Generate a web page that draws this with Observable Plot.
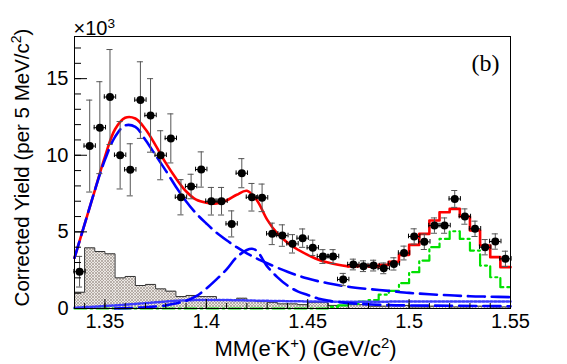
<!DOCTYPE html>
<html><head><meta charset="utf-8">
<script src="https://cdn.jsdelivr.net/npm/d3@7"></script>
<script src="https://cdn.jsdelivr.net/npm/@observablehq/plot@0.6"></script>
<style>
html,body{margin:0;padding:0;background:#fff;}
#chart svg{display:block;}
</style></head><body><div id="chart"></div>
<script>
// ---- data ----
const binEdges = [1.335,1.340,1.345,1.350,1.355,1.360,1.365,1.370,1.375,1.380,1.385,1.390,1.395,1.400,1.405,1.410,1.415,1.420,1.425,1.430,1.435,1.440,1.445,1.450,1.455,1.460,1.465,1.470,1.475,1.480,1.485,1.490,1.495,1.500,1.505,1.510,1.515,1.520,1.525,1.530,1.535,1.540,1.545,1.550];
const dataX = [1.3375,1.3425,1.3475,1.3525,1.3575,1.3625,1.3675,1.3725,1.3775,1.3825,1.3875,1.3925,1.3975,1.4025,1.4075,1.4125,1.4175,1.4225,1.4275,1.4325,1.4375,1.4425,1.4475,1.4525,1.4575,1.4625,1.4675,1.4725,1.4775,1.4825,1.4875,1.4925,1.4975,1.5025,1.5075,1.5125,1.5175,1.5225,1.5275,1.5325,1.5375,1.5425,1.5475];
const dataY = [2.4,10.6,11.8,13.8,10.0,9.05,13.6,12.6,10.0,11.1,7.26,7.96,9.07,7.0,7.0,5.52,8.83,7.26,7.22,4.87,4.76,4.22,4.59,3.96,3.39,3.39,1.89,2.87,2.76,2.80,2.62,2.91,3.62,4.70,4.35,5.41,5.41,7.15,6.0,5.2,4.0,4.37,3.24];
const dataErr = [1.0,3.0,3.0,3.1,2.2,1.7,2.5,2.4,1.6,1.6,1.15,0.8,1.15,0.9,0.9,0.85,0.95,0.9,0.9,0.7,0.7,0.6,0.6,0.5,0.45,0.45,0.4,0.35,0.35,0.35,0.35,0.4,0.45,0.5,0.5,0.5,0.5,0.55,0.5,0.5,0.5,0.5,0.5];

const hatchedBins = [1.06,3.96,3.72,3.57,2.0,2.09,1.5,1.57,1.28,1.13,0.78,0.85,0.78,0.78,0.57,0.52,0.67,0.52,0.45,0.4,0.3,0.3,0.25,0.4,0.4,0.2,0.2,0.25,0.25,0.15,0.15,0.2,0.2,0.1,0.1,0.15,0.15,0.1,0.1,0.15,0.15,0.1,0.1];
const greenBins = [0,0,0,0,0,0,0,0,0,0,0,0,0,0,0,0,0,0,0,0,0,0,0,0,0,0.1,0.2,0.3,0.45,0.55,0.9,1.15,1.65,2.37,3.13,4.0,4.54,5.04,4.54,3.78,2.8,2.04,1.39];
const redStepFirstBin = 27;
const redStepBins = [2.74,2.80,2.72,2.85,3.05,3.5,4.15,4.87,5.74,6.28,6.50,6.0,5.09,4.11,3.35,2.7];

const redX = [1.335,1.34,1.345,1.35,1.355,1.36,1.365,1.37,1.375,1.38,1.385,1.39,1.395,1.40,1.405,1.41,1.415,1.42,1.425,1.43,1.435,1.44,1.445,1.45,1.455,1.46,1.465,1.47];
const redY = [3.3,5.5,7.7,9.9,11.7,12.45,12.4,11.7,10.65,9.5,8.5,7.65,7.1,6.9,6.85,7.05,7.42,7.68,7.05,5.8,4.9,4.3,3.85,3.5,3.2,3.0,2.85,2.75];

const broadX = [1.335,1.34,1.345,1.35,1.355,1.36,1.365,1.37,1.375,1.38,1.385,1.39,1.395,1.40,1.405,1.41,1.415,1.42,1.425,1.43,1.44,1.45,1.46,1.47,1.48,1.49,1.50,1.51,1.52,1.53,1.54,1.55];
const broadY = [3.3,5.5,7.7,9.7,11.2,11.95,11.85,11.0,10.0,9.0,7.95,7.0,6.2,5.55,4.95,4.45,4.0,3.6,3.25,2.95,2.4,1.95,1.65,1.42,1.27,1.15,1.02,0.93,0.86,0.8,0.77,0.74];

const peakX = [1.355,1.36,1.37,1.38,1.385,1.39,1.395,1.40,1.405,1.41,1.415,1.42,1.4225,1.425,1.43,1.435,1.44,1.445,1.45,1.455,1.46,1.47,1.48,1.49,1.50,1.52,1.55];
const peakY = [0.0,0.02,0.08,0.2,0.33,0.5,0.8,1.3,1.9,2.55,3.35,3.82,3.9,3.75,2.75,2.05,1.5,1.12,0.88,0.66,0.52,0.35,0.27,0.22,0.2,0.18,0.15];

const dottedX = [1.335,1.345,1.355,1.365,1.375,1.385,1.395,1.41,1.43,1.46,1.50,1.55];
const dottedY = [0.05,0.12,0.2,0.3,0.4,0.5,0.55,0.55,0.5,0.45,0.45,0.45];

const xMajor = [1.35,1.40,1.45,1.50,1.55];
const xTickLabels = ["1.35","1.4","1.45","1.5","1.55"];
const xMinor = [1.34,1.35,1.36,1.37,1.38,1.39,1.40,1.41,1.42,1.43,1.44,1.45,1.46,1.47,1.48,1.49,1.50,1.51,1.52,1.53,1.54,1.55];
const yMajor = [0,5,10,15];
const yTickLabels = ["0","5","10","15"];
const yMinor = [1,2,3,4,5,6,7,8,9,10,11,12,13,14,15,16,17];

const xTitle = "MM(e\u207BK\u207A) (GeV/c\u00B2)";
const yTitle = "Corrected Yield (per 5 MeV/c\u00B2)";
const scaleText = "\u00D710\u00B3";
const panelText = "(b)";

// ---- build tables ----
const pts = dataX.map((x, i) => ({x, y: dataY[i], e: dataErr[i]}));
const hatchRects = hatchedBins.map((v, i) => ({x1: binEdges[i], x2: binEdges[i + 1], y: v}));
const stepPts = (vals, start) => vals.map((v, i) => ({x: binEdges[start + i], y: v}))
  .concat([{x: binEdges[start + vals.length], y: vals[vals.length - 1]}]);
const xy = (X, Y) => X.map((x, i) => ({x, y: Y[i]}));

const SANS = "'Liberation Sans', Arial, Helvetica, sans-serif";
const BLUE = "#0000ff";

const chart = Plot.plot({
  width: 567, height: 364,
  marginLeft: 74, marginRight: 57, marginTop: 36, marginBottom: 56,
  x: {domain: [1.335, 1.55], label: null},
  y: {domain: [0, 17.75], label: null},
  style: {fontFamily: SANS, fontSize: "20px", color: "black", background: "white", overflow: "visible"},
  marks: [
    Plot.rectY(hatchRects, {x1: "x1", x2: "x2", y: "y", fill: "url(#hatch)"}),
    Plot.line(stepPts(hatchedBins, 0), {x: "x", y: "y", curve: "step-after", stroke: "#333", strokeWidth: 1}),
    Plot.line(stepPts(greenBins, 0), {x: "x", y: "y", curve: "step-after", stroke: "#00e000", strokeWidth: 2.2, strokeDasharray: "12,4,2,4"}),
    Plot.line(xy(dottedX, dottedY), {x: "x", y: "y", curve: "catmull-rom", stroke: "#3a3aff", strokeWidth: 2.5, strokeDasharray: "2,2"}),
    Plot.line(xy(redX, redY), {x: "x", y: "y", curve: "catmull-rom", stroke: "#ff0000", strokeWidth: 2.6}),
    Plot.line(stepPts(redStepBins, redStepFirstBin), {x: "x", y: "y", curve: "step-after", stroke: "#ff0000", strokeWidth: 2.6}),
    Plot.line(xy(broadX, broadY), {x: "x", y: "y", curve: "catmull-rom", stroke: BLUE, strokeWidth: 2.6, strokeDasharray: "17,7"}),
    Plot.line(xy(peakX, peakY), {x: "x", y: "y", curve: "catmull-rom", stroke: BLUE, strokeWidth: 2.6, strokeDasharray: "17,7"}),
    // error bars
    Plot.ruleX(pts, {x: "x", y1: d => d.y - d.e, y2: d => d.y + d.e, stroke: "#555", strokeWidth: 1}),
    Plot.ruleY(pts, {y: d => d.y - d.e, x1: d => d.x - 0.0015, x2: d => d.x + 0.0015, stroke: "#555", strokeWidth: 1}),
    Plot.ruleY(pts, {y: d => d.y + d.e, x1: d => d.x - 0.0015, x2: d => d.x + 0.0015, stroke: "#555", strokeWidth: 1}),
    Plot.ruleY(pts, {y: "y", x1: d => d.x - 0.0028, x2: d => d.x + 0.0028, stroke: "black", strokeWidth: 1}),
    Plot.ruleX(pts, {x: d => d.x - 0.0028, y1: d => d.y - 0.15, y2: d => d.y + 0.15, stroke: "black", strokeWidth: 1}),
    Plot.ruleX(pts, {x: d => d.x + 0.0028, y1: d => d.y - 0.15, y2: d => d.y + 0.15, stroke: "black", strokeWidth: 1}),
    Plot.dot(pts, {x: "x", y: "y", r: 4, fill: "black", stroke: "none"}),
    Plot.frame({stroke: "black", strokeWidth: 1}),
    // axes: inward ticks and labels
    Plot.axisY(yMinor, {anchor: "left", tickSize: -7, fill: "none", label: null}),
    Plot.axisY(yMajor, {anchor: "left", tickSize: -13, fill: "none", label: null}),
    Plot.axisY(yMajor, {anchor: "left", tickSize: 0, tickPadding: 6, tickFormat: (d, i) => yTickLabels[i], label: null, fontSize: 20}),
    Plot.axisX(xMinor, {anchor: "bottom", tickSize: -5, fill: "none", label: null}),
    Plot.axisX(xMajor, {anchor: "bottom", tickSize: -9, fill: "none", label: null}),
    Plot.axisX(xMajor, {anchor: "bottom", tickSize: 0, tickPadding: 5, tickFormat: (d, i) => xTickLabels[i], label: null, fontSize: 20}),
    // titles
    Plot.text([xTitle], {text: d => d, frameAnchor: "bottom", lineAnchor: "middle", textAnchor: "middle", dx: 13, dy: 40, fontSize: 22, fontFamily: SANS}),
    Plot.text([yTitle], {text: d => d, frameAnchor: "left", textAnchor: "middle", lineAnchor: "middle", rotate: -90, dx: -52, dy: -5, fontSize: 20.5, fontFamily: SANS}),
    Plot.text([scaleText], {text: d => d, frameAnchor: "top-left", textAnchor: "start", lineAnchor: "middle", dx: -1, dy: -8, fontSize: 20, fontFamily: SANS}),
    Plot.text([panelText], {text: d => d, frameAnchor: "top-right", textAnchor: "middle", lineAnchor: "middle", dx: -25, dy: 27, fontSize: 24, fontFamily: "'Liberation Serif', 'Times New Roman', serif"})
  ]
});

const svg = chart.tagName.toLowerCase() === "svg" ? chart : chart.querySelector("svg");
const ns = "http://www.w3.org/2000/svg";
const defs = document.createElementNS(ns, "defs");
defs.innerHTML = '<pattern id="hatch" width="3" height="3" patternUnits="userSpaceOnUse"><rect width="3" height="3" fill="#ebe7e3"/><path d="M0,0L3,3M3,0L0,3" stroke="#a0978f" stroke-width="0.7"/></pattern>';
svg.insertBefore(defs, svg.firstChild);
document.getElementById("chart").appendChild(chart);

// render superscript characters as raised, smaller text (ROOT-like)
const supMap = {"\u207B": "-", "\u207A": "+", "\u00B2": "2", "\u00B3": "3"};
svg.querySelectorAll("text").forEach(t => {
  const s = t.textContent;
  if (t.children.length || !/[\u207B\u207A\u00B2\u00B3]/.test(s)) return;
  while (t.firstChild) t.removeChild(t.firstChild);
  let buf = "";
  const flush = () => { if (buf) { t.appendChild(document.createTextNode(buf)); buf = ""; } };
  for (const ch of s) {
    if (supMap[ch]) {
      flush();
      const ts = document.createElementNS(ns, "tspan");
      ts.setAttribute("baseline-shift", "super");
      ts.setAttribute("font-size", "68%");
      ts.textContent = supMap[ch];
      t.appendChild(ts);
    } else buf += ch;
  }
  flush();
});
</script>
</body></html>
